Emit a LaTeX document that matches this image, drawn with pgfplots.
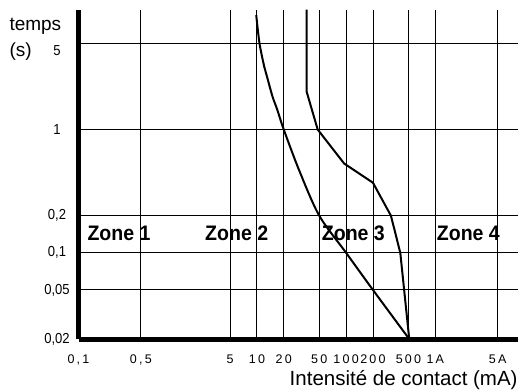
\documentclass[border=0pt]{standalone}
\usepackage{fontspec}
\setmainfont{Liberation Sans}
\newfontfamily\xtickfont[LetterSpace=18]{Liberation Sans}
\newfontfamily\ytickfont[FakeStretch=0.9]{Liberation Sans}
\newfontfamily\zonefont[FakeStretch=0.93]{Liberation Sans}
\usepackage{pgfplots}
\pgfplotsset{compat=1.18}
\begin{document}
\begin{tikzpicture}[x=1pt,y=1pt]
\useasboundingbox (0,0) rectangle (518,389);
\begin{axis}[
  at={(78.5pt,50pt)}, anchor=south west,
  scale only axis, width=439.5pt, height=329.5pt,
  xmode=log, ymode=log,
  xmin=0.1, xmax=8453, ymin=0.02, ymax=9.40,
  axis x line=bottom, axis y line=left,
  axis line style={-, line width=5pt, black},
  xtick={0.1,0.5,5,10,20,50,100,200,500,1000,5000},
  xticklabels={{0,1},{0,5},5,10,20,50,100,200,500,1A,5A},
  ytick={0.02,0.05,0.1,0.2,1,5},
  yticklabels={{0,02},{0,05},{0,1},{0,2},1,{\smash{\raisebox{-11.9pt}{5}}}},
  major tick length=0pt, minor tick num=0,
  tick style={draw=none},
  xminorticks=false, yminorticks=false,
  grid=major, grid style={black, line width=0.9pt},
  xticklabel style={font=\xtickfont\fontsize{12.5}{14}\selectfont, anchor=base, yshift=-24pt, inner sep=0pt},
  yticklabel style={font=\ytickfont\fontsize{14.5}{16}\selectfont, anchor=center, xshift=-21.5pt, inner sep=0pt},
  clip=false,
]
% courbe de gauche
\addplot[black, line width=2pt, no marks, smooth, tension=0.5, line join=round] coordinates {
  (9.83,8.46) (10.7,4.98) (12.1,3.22) (13.0,2.67) (14.96,1.85) (16.9,1.45)
  (20,1) (30,0.46) (50,0.2) (100,0.1) (200,0.05) (510,0.02)
};
% courbe de droite
\addplot[black, line width=2pt, no marks, line join=round] coordinates {
  (36,9.40) (36,2.04) (48,1) (95,0.53) (200,0.37) (318,0.2) (405,0.1) (510,0.02)
};
\end{axis}
% zones
\node[anchor=base west, inner sep=0pt, font=\zonefont\bfseries\fontsize{21}{21}\selectfont] at (87.3,149) {Zone 1};
\node[anchor=base west, inner sep=0pt, font=\zonefont\bfseries\fontsize{21}{21}\selectfont] at (205,149) {Zone 2};
\node[anchor=base west, inner sep=0pt, font=\zonefont\bfseries\fontsize{21}{21}\selectfont] at (321.7,149) {Zone 3};
\node[anchor=base west, inner sep=0pt, font=\zonefont\bfseries\fontsize{21}{21}\selectfont] at (436.7,149) {Zone 4};
% axis titles
\node[anchor=base west, inner sep=0pt, font=\fontsize{19}{20}\selectfont] at (9.3,358.3) {temps};
\node[anchor=base west, inner sep=0pt, font=\fontsize{19}{20}\selectfont] at (9.3,332.7) {(s)};
\node[anchor=base west, inner sep=0pt, font=\fontsize{20.5}{22}\selectfont] at (289.5,3.5) {Intensité de contact (mA)};
\end{tikzpicture}
\end{document}
